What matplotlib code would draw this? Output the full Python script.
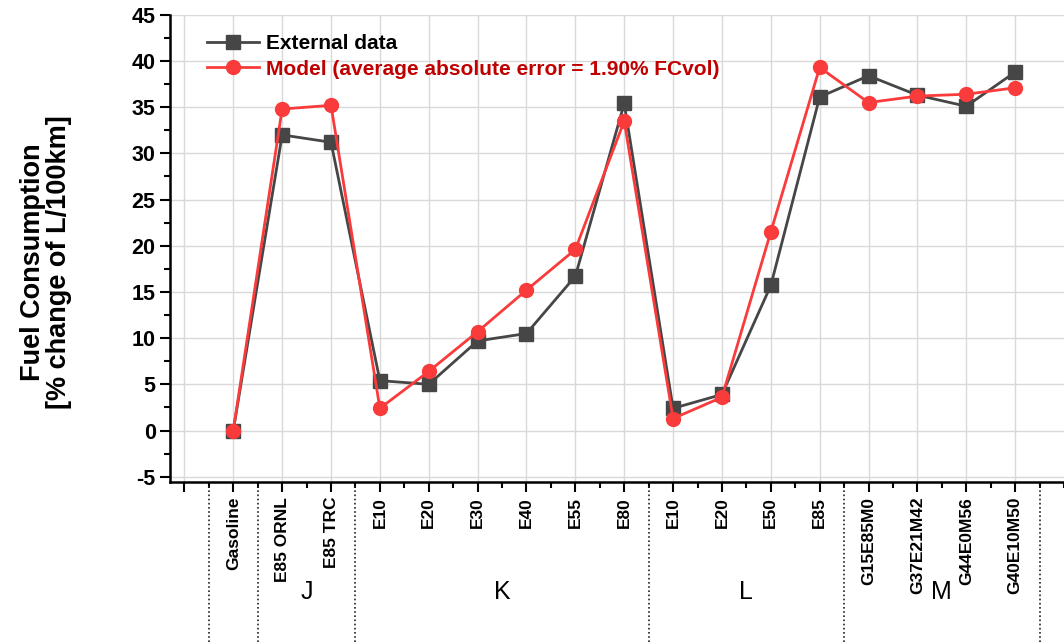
import matplotlib
matplotlib.use("Agg")
import matplotlib.pyplot as plt
import matplotlib.ticker as mtick
import matplotlib.transforms as mtrans

plt.rcParams["font.family"] = ["Liberation Sans", "DejaVu Sans"]
plt.rcParams["axes.unicode_minus"] = False

tick_labels = ["", "Gasoline", "E85 ORNL", "E85 TRC",
               "E10", "E20", "E30", "E40", "E55", "E80",
               "E10", "E20", "E50", "E85",
               "G15E85M0", "G37E21M42", "G44E0M56", "G40E10M50"]
external = [0.0, 32.0, 31.2, 5.4, 5.0, 9.7, 10.5, 16.7, 35.4,
            2.4, 3.9, 15.7, 36.1, 38.4, 36.3, 35.1, 38.8]
model = [0.0, 34.8, 35.2, 2.4, 6.4, 10.7, 15.2, 19.6, 33.5,
         1.3, 3.6, 21.5, 39.3, 35.5, 36.2, 36.4, 37.1]
groups = ["J", "K", "L", "M"]
group_centers = [2.5, 6.5, 11.5, 15.5]
separators = [0.5, 1.5, 3.5, 9.5, 13.5, 17.5]

fig = plt.figure(figsize=(10.64, 6.43), dpi=100)
ax = fig.add_axes([0.16, 0.25, 0.84, 0.727])

x = list(range(1, len(external) + 1))
ax.plot(x, external, color="#464646", lw=2, marker="s", ms=9.5,
        label="External data", zorder=3)
ax.plot(x, model, color="#f93b3b", lw=2, marker="o", ms=10,
        label="Model (average absolute error = 1.90% FCvol)", zorder=4)

ax.set_xlim(-0.29, 18)
ax.set_ylim(-5.6, 45)
ax.set_xticks(range(0, 18))
ax.set_xticklabels(tick_labels, rotation=90, fontsize=12.5, fontweight="bold")
ax.xaxis.set_minor_locator(mtick.MultipleLocator(0.5))
ax.yaxis.set_major_locator(mtick.MultipleLocator(5))
ax.yaxis.set_minor_locator(mtick.MultipleLocator(2.5))
ax.tick_params(axis="y", labelsize=15.5)
for lab in ax.get_yticklabels():
    lab.set_fontweight("bold")
ax.tick_params(which="major", length=7, width=1.5, direction="out")
ax.tick_params(which="minor", length=4, width=1.5, direction="out")
ax.grid(True, which="major", color="#d9d9d9", lw=1)
ax.set_axisbelow(True)
for s in ["top", "right"]:
    ax.spines[s].set_visible(False)
for s in ["left", "bottom"]:
    ax.spines[s].set_linewidth(1.8)

ax.set_ylabel("Fuel Consumption\n[% change of L/100km]", fontsize=19.5,
              fontweight="bold", linespacing=1.0)
ax.yaxis.set_label_coords(-0.11, 0.47)

trans = mtrans.blended_transform_factory(ax.transData, ax.transAxes)
for sx in separators:
    ax.plot([sx, sx], [0, -0.35], transform=trans, color="#222222",
            lw=1.2, ls=(0, (1, 1.5)), clip_on=False)
for g, gx in zip(groups, group_centers):
    ax.text(gx, -0.235, g, transform=trans, ha="center", va="center",
            fontsize=18)

leg = ax.legend(loc="upper left", bbox_to_anchor=(0.027, 0.985), frameon=False,
                prop={"size": 15, "weight": "bold"}, handlelength=2.5,
                borderaxespad=0.2, labelspacing=0.3, handletextpad=0.35)
leg.get_texts()[1].set_color("#c00000")

fig.savefig("out.png", dpi=100)
